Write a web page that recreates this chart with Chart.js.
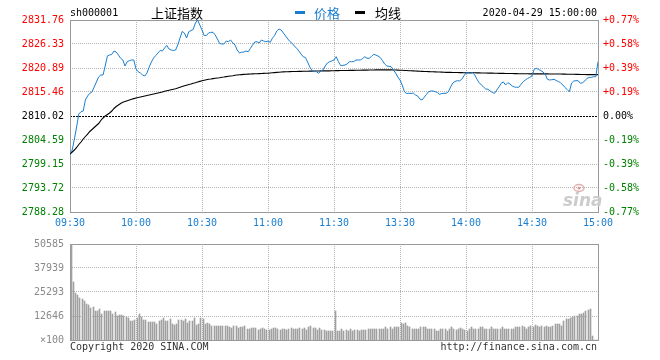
<!DOCTYPE html>
<html><head><meta charset="utf-8">
<script src="https://cdn.jsdelivr.net/npm/chart.js@4/dist/chart.umd.min.js"></script>
<style>
html,body{margin:0;padding:0;background:#fff;}
#wrap{position:relative;width:660px;height:360px;overflow:hidden;}
#c1{position:absolute;left:0;top:0;}
#c2{position:absolute;left:0;top:232px;}
</style></head><body>
<div id="wrap"><canvas id="c1" width="660" height="232"></canvas><canvas id="c2" width="660" height="128"></canvas></div>
<script>
// ---------- data ----------
const symbol = 'sh000001';
const indexName = '上证指数';
const seriesNames = ['价格', '均线'];
const stamp = '2020-04-29 15:00:00';
const copyrightText = 'Copyright 2020 SINA.COM';
const urlText = 'http://finance.sina.com.cn';
const prevClose = 2810.02;

const timeTickIdx = [0, 30, 60, 90, 120, 150, 180, 210, 240];
const timeLabels = ['09:30', '10:00', '10:30', '11:00', '11:30', '13:30', '14:00', '14:30', '15:00'];
const priceTicks = [2788.28, 2793.72, 2799.15, 2804.59, 2810.02, 2815.46, 2820.89, 2826.33, 2831.76];
const priceLabels = ['2788.28', '2793.72', '2799.15', '2804.59', '2810.02', '2815.46', '2820.89', '2826.33', '2831.76'];
const pctLabels = ['-0.77%', '-0.58%', '-0.39%', '-0.19%', '0.00%', '+0.19%', '+0.39%', '+0.58%', '+0.77%'];
const volTicks = [0, 12646, 25293, 37939, 50585];
const volLabels = ['×100', '12646', '25293', '37939', '50585'];

const price = [
2801.57,2802.32,2804.81,2807.53,2810.47,2810.99,2811.15,2813.64,2814.55,2815.16,
2815.46,2816.59,2817.72,2818.85,2819.30,2819.30,2821.34,2823.61,2823.83,2823.99,
2824.74,2824.51,2823.83,2823.09,2822.70,2821.34,2822.32,2822.54,2822.70,2822.70,
2820.66,2820.05,2819.76,2819.30,2819.08,2819.76,2821.12,2822.25,2823.15,2823.72,
2824.29,2824.85,2824.74,2825.42,2825.99,2825.19,2824.97,2824.85,2824.97,2826.10,
2827.68,2829.16,2828.82,2827.68,2829.11,2829.38,2829.61,2831.08,2831.76,2830.63,
2829.50,2828.25,2828.25,2828.82,2828.97,2828.97,2828.36,2827.46,2826.44,2826.33,
2826.33,2827.00,2826.85,2827.23,2826.55,2826.10,2824.97,2824.29,2824.45,2824.51,
2824.74,2824.58,2825.35,2826.10,2826.78,2826.85,2826.55,2827.23,2827.00,2826.85,
2827.00,2826.71,2827.62,2828.25,2829.27,2829.72,2829.50,2828.82,2828.14,2827.46,
2826.85,2826.48,2825.87,2825.35,2824.74,2824.06,2823.45,2823.27,2822.25,2821.12,
2820.32,2820.10,2820.05,2819.69,2820.21,2820.44,2821.34,2822.02,2822.32,2822.48,
2822.70,
2823.45,2822.32,2821.46,2821.46,2821.57,2821.80,2822.32,2822.32,2822.36,2822.70,
2822.70,2822.70,2823.04,2823.45,2823.09,2823.09,2823.49,2823.99,2823.83,2823.61,
2823.27,2822.59,2821.80,2821.34,2821.28,2821.18,2820.44,2819.76,2818.85,2818.17,
2817.04,2815.52,2815.12,2815.16,2815.12,2815.23,2814.78,2814.55,2813.87,2813.64,
2814.26,2814.89,2815.52,2815.68,2815.68,2815.52,2815.34,2814.93,2815.12,2815.16,
2815.16,2815.52,2816.59,2817.49,2817.83,2818.01,2817.95,2818.29,2819.08,2819.76,
2819.76,2819.69,2819.83,2819.30,2818.33,2817.56,2817.04,2816.59,2816.13,2816.07,
2815.68,2815.34,2815.16,2815.91,2816.59,2817.43,2817.72,2817.04,2817.56,2817.27,
2816.81,2816.59,2816.52,2816.52,2817.20,2817.79,2818.17,2818.51,2818.78,2819.08,
2820.60,2820.82,2820.55,2820.32,2819.98,2819.53,2818.33,2818.17,2818.24,2818.33,
2818.06,2817.83,2817.56,2817.04,2816.47,2816.02,2815.52,2817.49,2817.95,2818.01,
2818.01,2817.43,2817.56,2817.95,2818.56,2818.74,2818.78,2818.92,2818.92,2822.32
];

const avgPrice = [
2801.41,2801.87,2802.32,2802.89,2803.57,2804.13,2804.81,2805.38,2805.94,2806.51,
2806.96,2807.42,2807.87,2808.32,2809.00,2809.57,2810.02,2810.36,2810.70,2811.15,
2811.72,2812.17,2812.51,2812.85,2813.12,2813.30,2813.49,2813.64,2813.80,2813.96,
2814.10,2814.21,2814.32,2814.44,2814.55,2814.66,2814.78,2814.89,2815.00,2815.12,
2815.23,2815.34,2815.46,2815.61,2815.73,2815.84,2815.95,2816.07,2816.20,2816.36,
2816.54,2816.70,2816.86,2817.00,2817.15,2817.27,2817.43,2817.56,2817.72,2817.86,
2817.99,2818.11,2818.22,2818.33,2818.40,2818.49,2818.56,2818.63,2818.69,2818.78,
2818.85,2818.94,2819.01,2819.08,2819.15,2819.24,2819.31,2819.35,2819.40,2819.44,
2819.49,2819.51,2819.53,2819.55,2819.58,2819.60,2819.62,2819.65,2819.67,2819.69,
2819.71,2819.76,2819.80,2819.85,2819.89,2819.94,2819.99,2820.01,2820.03,2820.05,
2820.08,2820.09,2820.10,2820.11,2820.12,2820.13,2820.14,2820.15,2820.17,2820.18,
2820.19,2820.20,2820.21,2820.22,2820.23,2820.23,2820.24,2820.25,2820.25,2820.27,
2820.28,
2820.29,2820.30,2820.31,2820.32,2820.33,2820.34,2820.35,2820.35,2820.36,2820.37,
2820.38,2820.39,2820.40,2820.41,2820.42,2820.43,2820.44,2820.45,2820.46,2820.46,
2820.47,2820.47,2820.47,2820.47,2820.47,2820.46,2820.45,2820.43,2820.41,2820.39,
2820.37,2820.34,2820.31,2820.28,2820.26,2820.23,2820.21,2820.19,2820.16,2820.13,
2820.11,2820.09,2820.07,2820.05,2820.03,2820.01,2819.99,2819.97,2819.95,2819.93,
2819.91,2819.90,2819.89,2819.88,2819.87,2819.86,2819.85,2819.84,2819.83,2819.83,
2819.82,2819.81,2819.80,2819.80,2819.79,2819.78,2819.77,2819.76,2819.75,2819.74,
2819.73,2819.72,2819.70,2819.69,2819.68,2819.67,2819.67,2819.66,2819.65,2819.64,
2819.63,2819.62,2819.61,2819.60,2819.59,2819.59,2819.58,2819.58,2819.57,2819.57,
2819.57,2819.57,2819.56,2819.56,2819.56,2819.55,2819.55,2819.54,2819.54,2819.53,
2819.53,2819.52,2819.52,2819.51,2819.50,2819.49,2819.48,2819.47,2819.46,2819.45,
2819.44,2819.43,2819.42,2819.41,2819.40,2819.39,2819.38,2819.38,2819.38,2819.40
];

const volume = [
50585,30350,24960,23600,21920,21580,20570,18890,18210,16860,
17200,15510,15510,16520,13830,15510,15180,15510,15510,13490,
14500,12650,13150,13150,12650,12140,11800,10120,9780,10450,
11470,13490,12310,10450,10450,9440,9440,9440,9440,8430,
9780,10450,11470,9780,9780,10960,8430,8090,8430,10450,
10450,10120,10960,8770,9780,9780,11470,8090,8430,11470,
10960,8430,8770,8430,7590,7590,7590,7590,7590,7590,
7250,7250,6750,6410,7590,7590,6240,6750,6750,7590,
5900,5900,6240,6240,6240,5400,5900,6240,5900,5400,
5060,5900,6240,6240,5900,5400,5900,5900,5400,5900,
6240,5900,5900,5900,6240,5900,6410,5400,6750,7250,
6410,6240,5400,6240,5400,5060,4720,4720,4720,4720,
15180,
4720,4720,5560,4720,5060,4720,5900,4720,5060,5060,
4720,5060,5060,5060,5560,5560,5900,5900,5900,5900,
5560,5900,7080,5900,6750,5900,6750,6750,7080,8770,
8430,8940,7590,6750,5900,5900,5900,5900,6750,6750,
6750,5900,5560,5560,5560,4720,4720,5560,5900,5560,
4720,5560,6750,5900,5220,5560,6240,5900,5060,4720,
5900,6750,5900,5560,5560,6750,6750,5560,5560,5900,
6750,5900,5900,5560,5560,6750,5900,5900,5560,5900,
5560,6750,6750,6750,7590,6750,5900,7080,7590,7080,
8090,7590,7080,7590,6750,7250,6750,6750,7590,8430,
8430,8430,7590,10120,10960,10960,11470,12140,12650,12650,
13490,13490,14330,15180,16020,16520,2020,0,0,0
];

// ---------- styles ----------
const BLUE = '#1a7ed0', RED = '#ff0000', GREEN = '#008000', GRID = '#b4b4b4', FRAME = '#999999';
const MONO = '"DejaVu Sans Mono", "Liberation Mono", monospace';
const CJK = '"Noto Sans CJK SC", sans-serif';

function isZero(v){ return Math.abs(v - prevClose) < 0.005; }
function levelColor(ctx){ const v = ctx.tick ? ctx.tick.value : 0; if (isZero(v)) return '#000'; return v > prevClose ? RED : GREEN; }

const framePlugin = {
  id: 'frame',
  beforeDatasetsDraw(chart){
    const {ctx, chartArea: a} = chart;
    ctx.save();
    ctx.strokeStyle = FRAME; ctx.lineWidth = 1;
    ctx.strokeRect(Math.round(a.left) + 0.5, Math.round(a.top) + 0.5, Math.round(a.right - a.left), Math.round(a.bottom - a.top));
    ctx.restore();
  }
};

// snap the library-computed bar positions onto whole pixels so 1px bars stay crisp
const snapBarsPlugin = {
  id: 'snapBars',
  beforeDatasetsDraw(chart){
    chart.data.datasets.forEach((ds, di) => {
      const meta = chart.getDatasetMeta(di);
      if (meta.type !== 'bar') return;
      meta.data.forEach(el => {
        el.x = Math.floor(el.x) + 1.5;
        el.y = Math.round(el.y);
        el.base = Math.round(el.base);
      });
    });
  }
};

const headerPlugin = {
  id: 'header',
  beforeDatasetsDraw(chart){
    const ctx = chart.ctx;
    ctx.save();
    ctx.fillStyle = '#cccccc';
    ctx.font = 'italic bold 17px "DejaVu Sans", sans-serif';
    ctx.textAlign = 'left'; ctx.textBaseline = 'alphabetic';
    ctx.fillText('sina', 563, 206);
    ctx.strokeStyle = '#e0b0b0'; ctx.lineWidth = 1.5;
    ctx.beginPath(); ctx.ellipse(579, 188, 5, 3.5, 0, 0, Math.PI * 2); ctx.stroke();
    ctx.fillStyle = '#d99a9a';
    ctx.beginPath(); ctx.arc(579, 188, 1.6, 0, Math.PI * 2); ctx.fill();
    ctx.restore();
  },
  afterDraw(chart){
    const ctx = chart.ctx;
    ctx.save();
    ctx.textBaseline = 'middle';
    ctx.fillStyle = '#000';
    ctx.font = '10px ' + MONO;
    ctx.textAlign = 'left';
    ctx.fillText(symbol, 70, 13);
    ctx.font = '13px ' + CJK;
    ctx.fillText(indexName, 151, 13);
    ctx.fillStyle = BLUE; ctx.fillRect(295, 11, 10, 3);
    ctx.fillText(seriesNames[0], 314, 13);
    ctx.fillStyle = '#000'; ctx.fillRect(355, 11, 10, 3);
    ctx.fillText(seriesNames[1], 375, 13);
    ctx.font = '10px ' + MONO; ctx.textAlign = 'right';
    ctx.fillText(stamp, 597, 13);
    ctx.restore();
  }
};

const footerPlugin = {
  id: 'footer',
  afterDraw(chart){
    const ctx = chart.ctx;
    ctx.save();
    ctx.textBaseline = 'middle';
    ctx.fillStyle = '#333';
    ctx.font = '10px ' + MONO;
    ctx.textAlign = 'left'; ctx.fillText(copyrightText, 70, 115);
    ctx.textAlign = 'right'; ctx.fillText(urlText, 597, 115);
    ctx.restore();
  }
};

const xTicksFn = s => { s.ticks = timeTickIdx.map(v => ({value: v})); };

// ---------- price chart ----------
new Chart(document.getElementById('c1'), {
  type: 'line',
  data: {
    datasets: [
      {label: seriesNames[0], data: price.map((v, i) => ({x: i, y: v})), borderColor: BLUE, borderWidth: 1, pointRadius: 0, tension: 0, order: 1},
      {label: seriesNames[1], data: avgPrice.map((v, i) => ({x: i, y: v})), borderColor: '#000', borderWidth: 1.1, pointRadius: 0, tension: 0, order: 2}
    ]
  },
  options: {
    responsive: false, animation: false, events: [],
    layout: {padding: {top: 20, left: 0, right: 0, bottom: 0}},
    plugins: {legend: {display: false}, tooltip: {enabled: false}},
    scales: {
      x: {
        type: 'linear', min: 0, max: 240, offset: false,
        afterBuildTicks: xTicksFn,
        afterFit: s => { s.height = 20; },
        ticks: {autoSkip: false, maxRotation: 0, padding: 5, color: BLUE, font: {family: MONO, size: 10}, callback: (v, i) => timeLabels[i]},
        grid: {drawTicks: false, color: GRID, lineWidth: 1},
        border: {display: false, dash: [1, 1]}
      },
      y: {
        position: 'left', min: priceTicks[0], max: priceTicks[priceTicks.length - 1],
        afterBuildTicks: s => { s.ticks = priceTicks.map(v => ({value: v})); },
        afterFit: s => { s.width = 70; },
        ticks: {padding: 6, color: levelColor, font: {family: MONO, size: 10}, callback: (v, i) => priceLabels[i]},
        grid: {drawTicks: false, color: ctx => (ctx.tick && isZero(ctx.tick.value)) ? '#000' : GRID, lineWidth: 1},
        border: {display: false, dash: ctx => (ctx.tick && isZero(ctx.tick.value)) ? [2, 1] : [1, 1]}
      },
      y2: {
        position: 'right', min: priceTicks[0], max: priceTicks[priceTicks.length - 1],
        afterBuildTicks: s => { s.ticks = priceTicks.map(v => ({value: v})); },
        afterFit: s => { s.width = 62; },
        ticks: {padding: 5, color: levelColor, font: {family: MONO, size: 10}, callback: (v, i) => pctLabels[i]},
        grid: {display: false, drawTicks: false},
        border: {display: false}
      }
    }
  },
  plugins: [framePlugin, headerPlugin]
});

// ---------- volume chart ----------
new Chart(document.getElementById('c2'), {
  type: 'bar',
  data: {
    datasets: [
      {label: 'volume', data: volume.map((v, i) => ({x: i, y: v})), backgroundColor: '#a0a0a0', borderWidth: 0, barThickness: 1}
    ]
  },
  options: {
    responsive: false, animation: false, events: [],
    layout: {padding: {top: 9, left: 0, right: 62, bottom: 0}},
    plugins: {legend: {display: false}, tooltip: {enabled: false}},
    scales: {
      x: {
        type: 'linear', min: 0, max: 240, offset: false,
        afterBuildTicks: xTicksFn,
        afterFit: s => { s.height = 20; },
        ticks: {display: false},
        grid: {drawTicks: false, offset: false, color: GRID, lineWidth: 1},
        border: {display: false, dash: [1, 1]}
      },
      y: {
        position: 'left', min: 0, max: volTicks[volTicks.length - 1],
        afterBuildTicks: s => { s.ticks = volTicks.map(v => ({value: v})); },
        afterFit: s => { s.width = 70; },
        ticks: {padding: 6, color: '#8a8a8a', font: {family: MONO, size: 10}, callback: (v, i) => volLabels[i]},
        grid: {drawTicks: false, color: GRID, lineWidth: 1},
        border: {display: false, dash: [1, 1]}
      }
    }
  },
  plugins: [framePlugin, snapBarsPlugin, footerPlugin]
});
</script>
</body></html>
